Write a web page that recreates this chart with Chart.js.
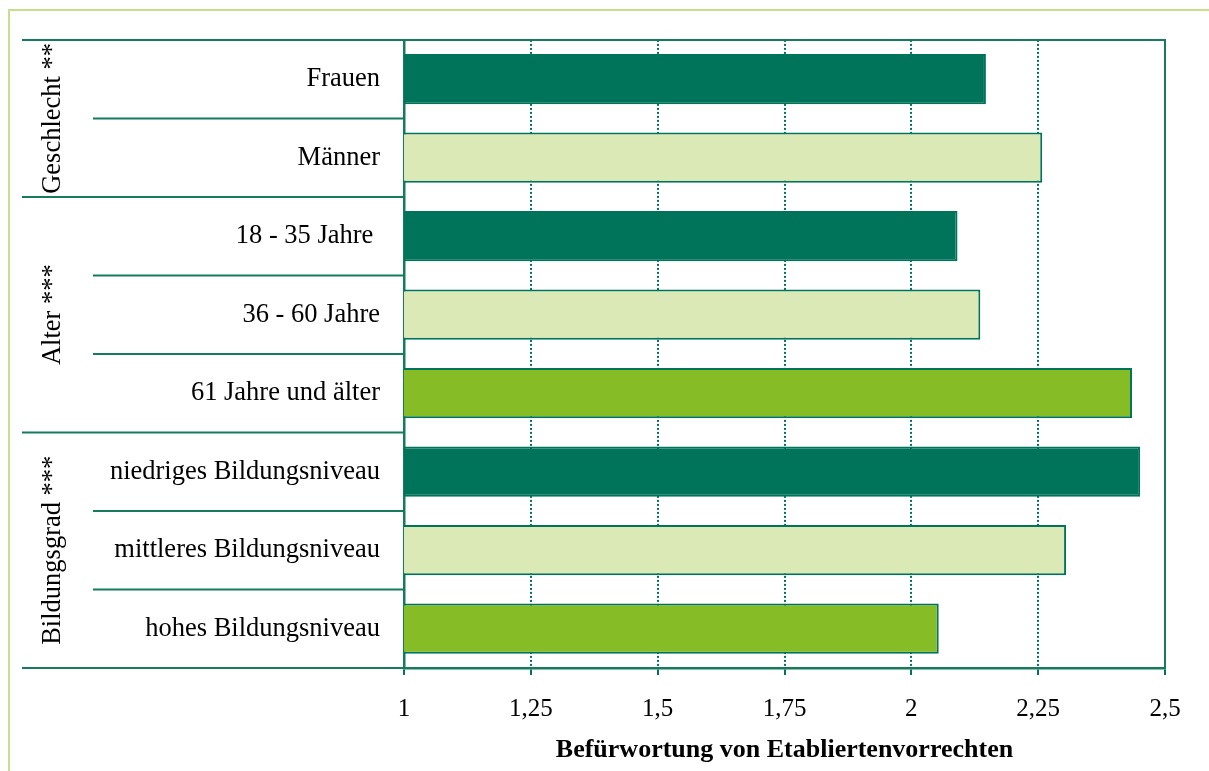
<!DOCTYPE html>
<html>
<head>
<meta charset="utf-8">
<script src="https://cdn.jsdelivr.net/npm/chart.js@4"></script>
<style>
  html, body { margin: 0; padding: 0; background: #fff; }
  canvas { display: block; }
</style>
</head>
<body>
<canvas id="barChart" width="1209" height="771"></canvas>
<script>
var categories = ["Frauen", "Männer", "18 - 35 Jahre ", "36 - 60 Jahre", "61 Jahre und älter",
  "niedriges Bildungsniveau", "mittleres Bildungsniveau", "hohes Bildungsniveau"];
var values = [2.147, 2.258, 2.091, 2.136, 2.435, 2.451, 2.305, 2.054];
var barTypes = ["dark", "light", "dark", "light", "lime", "dark", "light", "lime"];
var groupLabels = ["Geschlecht **", "Alter ***", "Bildungsgrad ***"];
var groupStarts = [0, 2, 5];
var groupEnds = [1, 4, 7];
var xTickLabels = ["1", "1,25", "1,5", "1,75", "2", "2,25", "2,5"];
var axisTitle = "Befürwortung von Etabliertenvorrechten";

(function(){
  var GREEN = "#00745a";
  var LINE = "#167a5c";
  var fills = { dark: GREEN, light: "#dbe9b7", lime: "#86bc25" };
  var serif = "'Liberation Serif', 'Times New Roman', serif";

  // frame, left-side table lines and group labels
  var decor = {
    id: "decor",
    beforeDraw: function(chart){
      var ctx = chart.ctx;
      ctx.save();
      ctx.strokeStyle = "#c6df8c";
      ctx.lineWidth = 2;
      ctx.strokeRect(9, 10, 1260, 820);
      ctx.restore();
    },
    afterDraw: function(chart){
      var ctx = chart.ctx, a = chart.chartArea, y = chart.scales.y;
      var half = (y.getPixelForValue(1) - y.getPixelForValue(0)) / 2;
      ctx.save();
      ctx.strokeStyle = LINE;
      ctx.lineWidth = 2;
      // frame top + right
      ctx.beginPath();
      ctx.moveTo(a.left, a.top); ctx.lineTo(a.right, a.top); ctx.lineTo(a.right, a.bottom);
      ctx.stroke();
      // row separators
      for (var i = -1; i < categories.length; i++) {
        var py = y.getPixelForValue(i) + half;
        var isGroup = i === -1 || groupEnds.indexOf(i) >= 0;
        ctx.beginPath();
        ctx.moveTo(isGroup ? 22 : 93, py);
        ctx.lineTo(a.left, py);
        ctx.stroke();
      }
      // group labels, rotated
      ctx.fillStyle = "#000";
      ctx.font = "26.5px " + serif;
      ctx.textAlign = "center";
      ctx.textBaseline = "middle";
      groupLabels.forEach(function(lbl, g){
        var cy = (y.getPixelForValue(groupStarts[g]) + y.getPixelForValue(groupEnds[g])) / 2;
        ctx.save();
        ctx.translate(53, cy);
        ctx.rotate(-Math.PI / 2);
        ctx.fillText(lbl, 0, 0);
        ctx.restore();
      });
      ctx.restore();
    }
  };

  new Chart(document.getElementById("barChart"), {
    type: "bar",
    data: {
      labels: categories,
      datasets: [{
        data: values,
        backgroundColor: barTypes.map(function(t){ return fills[t]; }),
        borderColor: barTypes.map(function(t){ return t === "dark" ? fills.dark : GREEN; }),
        borderWidth: 2,
        borderSkipped: false,
        barPercentage: 0.64,
        categoryPercentage: 1
      }]
    },
    options: {
      indexAxis: "y",
      responsive: false,
      animation: false,
      layout: { padding: { top: 39, right: 44, left: 0, bottom: 0 } },
      plugins: { legend: { display: false }, tooltip: { enabled: false } },
      scales: {
        x: {
          min: 1, max: 2.5,
          afterFit: function(s){ s.height = 103; },
          ticks: {
            stepSize: 0.25,
            color: "#000",
            padding: 19,
            font: { family: serif, size: 25 },
            callback: function(v, i){ return xTickLabels[i]; }
          },
          grid: { color: GREEN, lineWidth: 2, tickLength: 7, tickColor: GREEN, tickWidth: 2 },
          border: { color: LINE, width: 2.5, dash: [2, 2] },
          title: {
            display: true, text: axisTitle, color: "#000",
            font: { family: serif, size: 26, weight: "bold" },
            padding: { top: 0, bottom: 5 }
          }
        },
        y: {
          afterFit: function(s){ s.width = 404; },
          ticks: { color: "#000", padding: 24, font: { family: serif, size: 26.5 } },
          grid: { display: true, drawOnChartArea: false, drawTicks: false },
          border: { color: LINE, width: 2.5 }
        }
      }
    },
    plugins: [decor]
  });
})();
</script>
</body>
</html>
